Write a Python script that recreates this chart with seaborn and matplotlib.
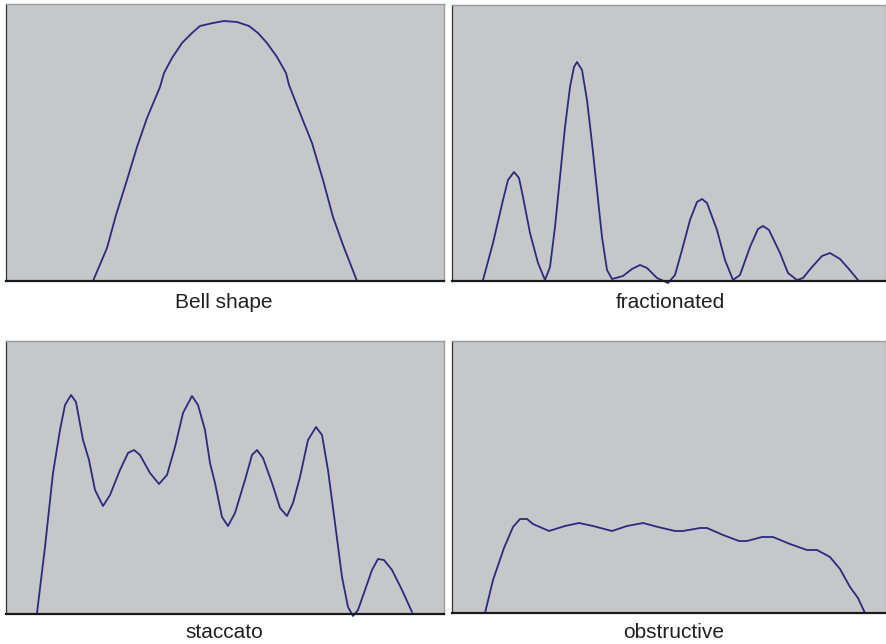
import numpy as np
import pandas as pd
import matplotlib
matplotlib.use("Agg")
import matplotlib.pyplot as plt
import seaborn as sns

# flow-time curves (time and flow in panel units)
bell_t = [87, 101, 110, 121, 131, 141, 154, 158, 166, 176, 186, 194, 207, 218,
          231, 243, 252, 261, 271, 280, 283, 294, 306, 317, 327, 337, 351]
bell_q = [0, 33, 66, 101, 134, 163, 194, 208, 223, 238, 248, 255, 258, 260,
          259, 255, 248, 238, 224, 208, 196, 168, 138, 101, 64, 36, 0]

frac_t = [31, 41, 51, 56, 62, 67, 71, 78, 86, 93, 98, 103, 108, 113, 118, 122,
          125, 130, 135, 140, 145, 150, 155, 160, 171, 180, 188, 195, 205,
          216, 223, 230, 238, 245, 250, 255, 265, 273, 281, 288, 298, 306,
          311, 317, 328, 336, 345, 351, 360, 370, 378, 388, 396, 406]
frac_q = [1, 38, 81, 101, 109, 103, 84, 48, 18, 1, 14, 54, 104, 154, 194, 214,
          219, 211, 181, 138, 91, 44, 11, 2, 5, 12, 16, 13, 3,
          -2, 6, 31, 61, 79, 82, 78, 51, 21, 1, 6, 34, 52,
          55, 51, 28, 8, 1, 3, 14, 25, 28, 22, 13, 1]

stac_t = [31, 39, 47, 54, 59, 65, 70, 77, 83, 89, 97, 104, 114, 122, 128, 134,
          144, 153, 161, 169, 177, 186, 192, 199, 204, 209, 216, 222, 229,
          239, 246, 251, 257, 266, 274, 281, 287, 294, 302, 310, 316, 322,
          329, 336, 342, 347, 352, 359, 366, 372, 378, 386, 396, 406]
stac_q = [1, 67, 141, 184, 209, 219, 212, 174, 154, 124, 108, 119, 144, 161,
          164, 159, 141, 130, 139, 167, 201, 218, 209, 184, 151, 131, 97, 88,
          101, 134, 159, 164, 156, 131, 106, 98, 111, 137, 174, 187, 179, 144,
          91, 37, 7, -2, 4, 24, 44, 55, 54, 44, 24, 2]

obst_t = [33, 41, 52, 61, 68, 75, 81, 97, 113, 127, 141, 160, 175, 191, 206,
          223, 231, 248, 255, 271, 287, 295, 310, 321, 338, 355, 365, 378,
          388, 398, 406, 413]
obst_q = [0, 33, 65, 86, 94, 94, 89, 82, 87, 90, 87, 82, 87, 90, 86, 82, 82,
          85, 85, 78, 72, 72, 76, 76, 69, 63, 63, 56, 44, 26, 15, 0]

labels = ["Bell shape", "fractionated", "staccato", "obstructive"]

sns.set_style("white")
plt.rcParams["font.family"] = ["Liberation Sans", "DejaVu Sans"]

fig = plt.figure(figsize=(8.86, 6.44), dpi=100)

# panel boxes in pixels: left, bottom(from top), width, height
boxes = [(6, 281, 438, 277), (452, 281, 434, 276),
         (6, 614, 438, 273), (452, 613, 434, 272)]
curves = [(bell_t, bell_q), (frac_t, frac_q), (stac_t, stac_q), (obst_t, obst_q)]
label_x = [224, 670, 224, 674]
label_y = [302, 302, 632, 632]

W, H = 886, 644
for (l, b, w, h), (t, q), lab, lx, ly in zip(boxes, curves, labels, label_x, label_y):
    ax = fig.add_axes([l / W, 1 - b / H, w / W, h / H])
    ax.set_facecolor("#c6c7c9")
    df = pd.DataFrame({"time": t, "flow": q})
    sns.lineplot(data=df, x="time", y="flow", sort=False, ax=ax,
                 color="#2b2a80", linewidth=1.3, clip_on=False, zorder=3)
    ax.set_xlim(0, w)
    ax.set_ylim(0, h)
    ax.set_xticks([])
    ax.set_yticks([])
    ax.set_xlabel("")
    ax.set_ylabel("")
    for s in ["top", "right"]:
        ax.spines[s].set_color("#9a9b9d")
        ax.spines[s].set_linewidth(1.0)
    ax.spines["left"].set_color("#333333")
    ax.spines["left"].set_linewidth(0.9)
    ax.spines["bottom"].set_color("#1a1a1a")
    ax.spines["bottom"].set_linewidth(1.6)
    ax.spines["bottom"].set_zorder(4)
    fig.text(lx / W, 1 - ly / H, lab, ha="center", va="center",
             fontsize=15, color="#231f20")

fig.savefig("out.png", dpi=100)
